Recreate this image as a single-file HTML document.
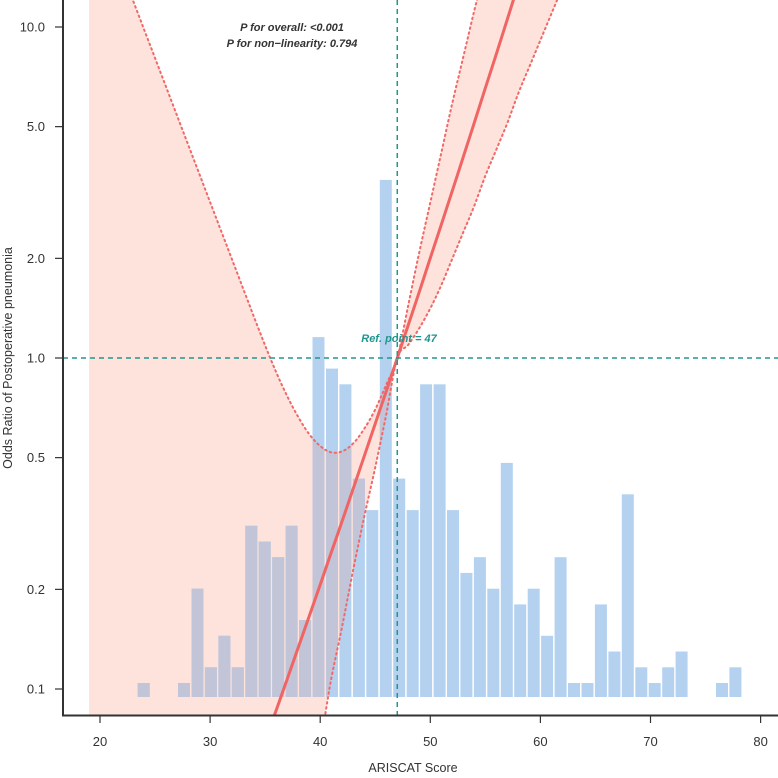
<!DOCTYPE html>
<html><head><meta charset="utf-8"><style>
html,body{margin:0;padding:0;background:#fff;overflow:hidden;width:778px;height:778px;}
svg{display:block;font-family:"Liberation Sans",Arial,sans-serif;}
</style></head><body>
<svg id="chart" width="778" height="778" viewBox="0 0 778 778">
<defs>
<clipPath id="plotClip"><rect x="63" y="0" width="715" height="715"/></clipPath>
<clipPath id="ribbonClip"><path id="ribbonClipPath" d=""/></clipPath>
</defs>
<g id="ribbonLayer" clip-path="url(#plotClip)"></g>
<g id="barLayer"></g>
<g id="barOverlay" clip-path="url(#ribbonClip)"></g>
<g id="lineLayer" clip-path="url(#plotClip)"></g>
<g id="refLayer"></g>
<g id="axisLayer"></g>
<text x="292" y="31" text-anchor="middle" font-size="11" font-weight="bold" font-style="italic" fill="#333">P for overall: &lt;0.001</text>
<text x="292" y="47" text-anchor="middle" font-size="11" font-weight="bold" font-style="italic" fill="#333">P for non−linearity: 0.794</text>
<text x="399" y="342" text-anchor="middle" font-size="11" font-weight="bold" font-style="italic" fill="#1f9590">Ref. point = 47</text>
<text x="413" y="772" text-anchor="middle" font-size="12.5" fill="#333">ARISCAT Score</text>
<text transform="translate(12,358) rotate(-90)" text-anchor="middle" font-size="12.5" fill="#333">Odds Ratio of Postoperative pneumonia</text>
</svg>
<script>
const binStart = 23.42;
const binWidth = 1.2216;
const binCounts = [1,0,0,1,7,2,4,2,11,10,9,11,5,23,21,20,14,12,33,14,12,20,20,12,8,9,7,15,6,7,4,9,1,1,6,3,13,2,1,2,3,0,0,1,2];
const curveX = [19,20,21,22,23,24,25,26,27,28,29,30,31,32,33,34,35,36,37,38,39,40,41,42,43,44,45,46,47,48,49,50,51,52,53,54,55,56,57,58,59,60,61,62,63];
const upperLogOR = [1.43,1.34,1.255,1.167,1.08,0.993,0.906,0.819,0.732,0.645,0.558,0.471,0.384,0.297,0.21,0.123,0.038,-0.043,-0.115,-0.178,-0.23,-0.266,-0.285,-0.282,-0.258,-0.214,-0.155,-0.08,0,0.16,0.32,0.47,0.62,0.77,0.91,1.05,1.18,1.32,1.45,1.58,1.71,1.84,1.97,2.1,2.23];
const lowerLogOR = [-3,-3,-3,-3,-3,-3,-3,-3,-3,-3,-3,-3,-3,-3,-3,-3,-3,-3,-2.2,-1.75,-1.4,-1.16,-0.97,-0.81,-0.64,-0.48,-0.33,-0.17,0,0.04,0.09,0.15,0.22,0.30,0.38,0.46,0.55,0.63,0.71,0.80,0.88,0.96,1.04,1.12,1.2];
const fitLogOR = [-2.577,-2.492,-2.407,-2.321,-2.235,-2.148,-2.061,-1.973,-1.884,-1.795,-1.706,-1.616,-1.525,-1.434,-1.342,-1.250,-1.157,-1.064,-0.970,-0.875,-0.780,-0.685,-0.588,-0.492,-0.395,-0.297,-0.198,-0.100,0,0.100,0.200,0.302,0.403,0.505,0.608,0.711,0.815,0.919,1.024,1.130,1.236,1.342,1.450,1.557,1.665];
const refPoint = 47;
const xTicks = [20,30,40,50,60,70,80];
const yTicks = [10,5,2,1,0.5,0.2,0.1];
const yTickLabels = ["10.0","5.0","2.0","1.0","0.5","0.2","0.1"];

const NS = "http://www.w3.org/2000/svg";
const Y_MIN = -150, Y_MAX = 776;
function xs(v){ return 100 + (v - 20) * 11.01; }
function yl(l){ return Math.max(Y_MIN, Math.min(Y_MAX, 358 - 331 * l)); }
function ys(v){ return yl(Math.log10(v)); }
const barBase = 697, unitH = 15.72;
function mk(tag, attrs, parent){ const e=document.createElementNS(NS,tag); for(const k in attrs) e.setAttribute(k,attrs[k]); parent.appendChild(e); return e; }
function cl(y){ return Math.max(Y_MIN, Math.min(Y_MAX, y)); }
function smooth(pts, start){
  let d = (start ? "M" : "L") + pts[0][0].toFixed(1) + "," + pts[0][1].toFixed(1);
  for(let i=0;i<pts.length-1;i++){
    const p0=pts[Math.max(0,i-1)], p1=pts[i], p2=pts[i+1], p3=pts[Math.min(pts.length-1,i+2)];
    const c1=[p1[0]+(p2[0]-p0[0])/6, cl(p1[1]+(p2[1]-p0[1])/6)];
    const c2=[p2[0]-(p3[0]-p1[0])/6, cl(p2[1]-(p3[1]-p1[1])/6)];
    d += "C"+c1[0].toFixed(1)+","+c1[1].toFixed(1)+" "+c2[0].toFixed(1)+","+c2[1].toFixed(1)+" "+p2[0].toFixed(1)+","+p2[1].toFixed(1);
  }
  return d;
}
function ptsOf(arr){ return curveX.map((v,i)=>[xs(v), yl(arr[i])]); }

// ribbon
const upPts = ptsOf(upperLogOR), loPts = ptsOf(lowerLogOR);
const d = smooth(upPts, true) + smooth(loPts.slice().reverse(), false) + "Z";
const rl = document.getElementById("ribbonLayer");
const rib = mk("path",{d:d,fill:"#fde3db",stroke:"none"},rl);


document.getElementById("ribbonClipPath").setAttribute("d", d);

// bars
const bl = document.getElementById("barLayer"), bo = document.getElementById("barOverlay");
binCounts.forEach((c,i)=>{
  if(c<=0) return;
  const x0 = xs(binStart + i*binWidth), x1 = xs(binStart + (i+1)*binWidth);
  const h = c*unitH - 1.7;
  const r = mk("rect",{x:x0.toFixed(1),y:(barBase-h).toFixed(1),width:(x1-x0-1.4).toFixed(1),height:h.toFixed(1),fill:"#b4d2ef"},bl);
  
  
  const r2 = mk("rect",{x:x0.toFixed(1),y:(barBase-h).toFixed(1),width:(x1-x0-1.4).toFixed(1),height:h.toFixed(1),fill:"#c2c4d8"},bo);
  
  
});

// ci lines and fit
const ll = document.getElementById("lineLayer");
const up = mk("path",{d:smooth(upPts,true),fill:"none",stroke:"#f06868","stroke-width":"2","stroke-dasharray":"1.5,3.5","stroke-linecap":"round"},ll);


const lo = mk("path",{d:smooth(loPts,true),fill:"none",stroke:"#f06868","stroke-width":"2","stroke-dasharray":"1.5,3.5","stroke-linecap":"round"},ll);


const fit = mk("path",{d:smooth(ptsOf(fitLogOR),true),fill:"none",stroke:"#f06464","stroke-width":"3"},ll);



// reference lines
const rf = document.getElementById("refLayer");
const vl = mk("line",{x1:xs(refPoint),x2:xs(refPoint),y1:0,y2:715,stroke:"#23958f","stroke-width":"1.5","stroke-dasharray":"5,4"},rf);


const hl = mk("line",{x1:63,x2:778,y1:ys(1),y2:ys(1),stroke:"#23958f","stroke-width":"1.5","stroke-dasharray":"5,4"},rf);



// axes
const ax = document.getElementById("axisLayer");
const la = mk("line",{x1:63,x2:63,y1:0,y2:716,stroke:"#333","stroke-width":"2"},ax);


const ba = mk("line",{x1:62,x2:778,y1:715.5,y2:715.5,stroke:"#333","stroke-width":"2"},ax);


xTicks.forEach(v=>{
  const t = mk("line",{x1:xs(v),x2:xs(v),y1:716,y2:723,stroke:"#333","stroke-width":"1.2"},ax);
  
  
  const tx = mk("text",{x:xs(v),y:746,"text-anchor":"middle","font-size":"13",fill:"#333"},ax);
  tx.textContent = String(v);
  
  
});
yTicks.forEach((v,i)=>{
  const t = mk("line",{x1:55,x2:63,y1:ys(v),y2:ys(v),stroke:"#333","stroke-width":"1.2"},ax);
  
  
  const tx = mk("text",{x:45,y:ys(v)+4.5,"text-anchor":"end","font-size":"13",fill:"#333"},ax);
  tx.textContent = yTickLabels[i];
  
  
});
</script>
</body></html>
